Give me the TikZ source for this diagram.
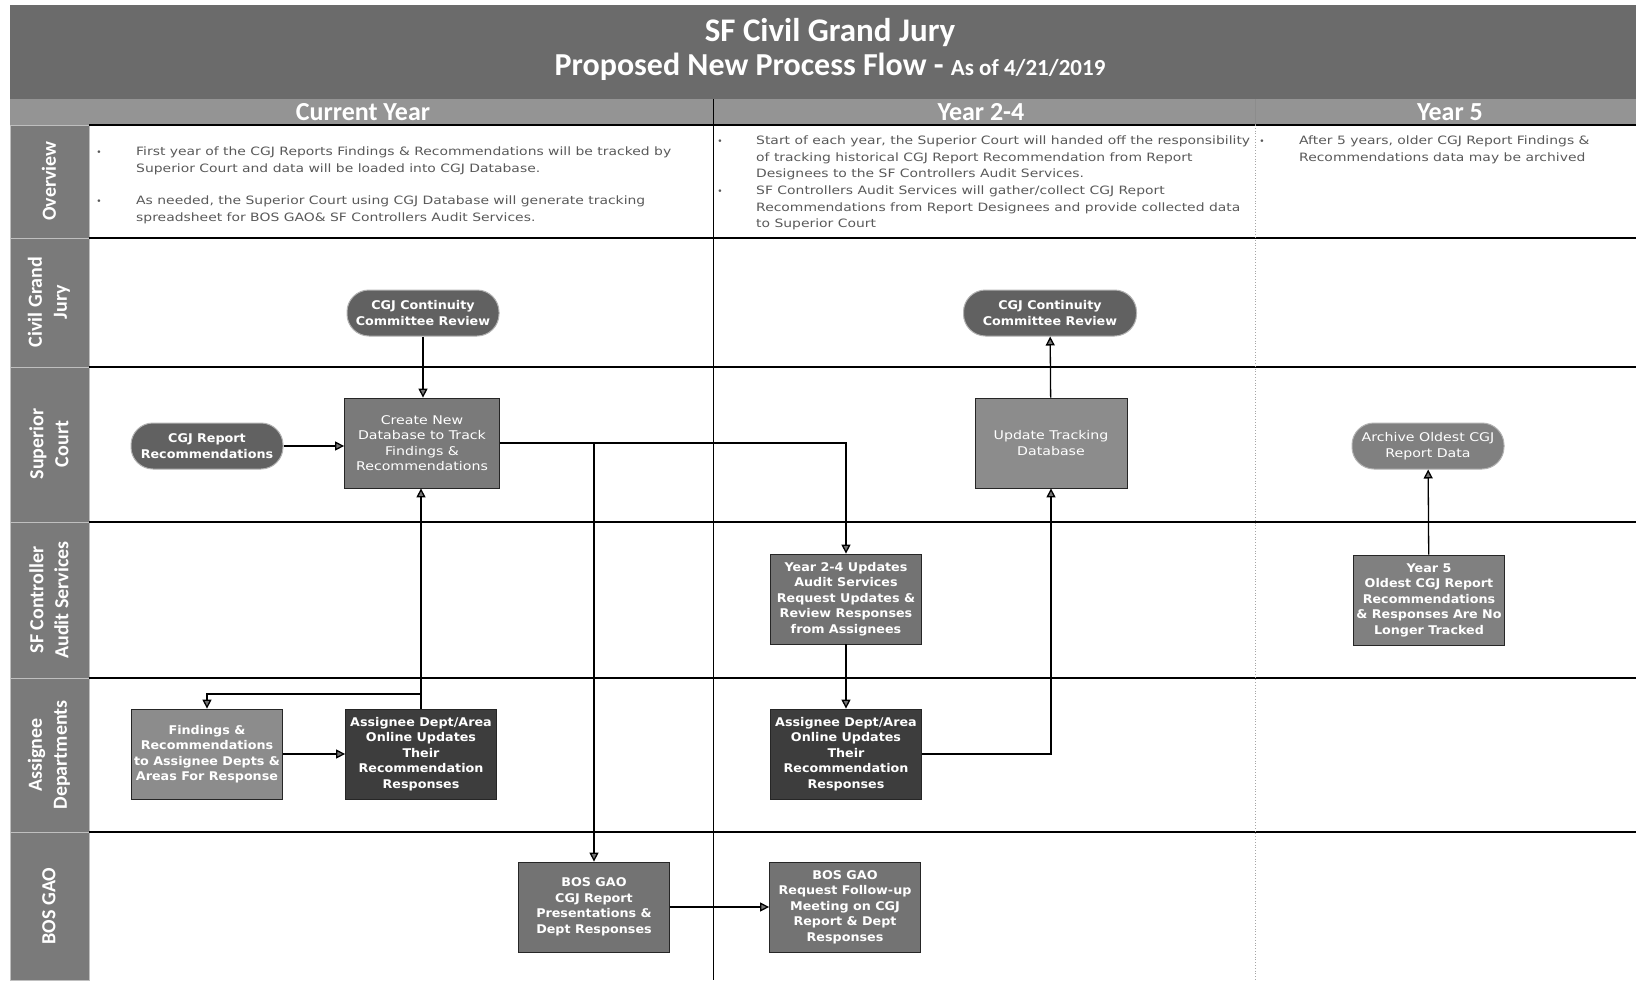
\documentclass[tikz,border=0pt]{standalone}
\usepackage{fontspec}
\setmainfont{DejaVu Sans}
\newfontfamily\headfont{Carlito}
\newfontfamily\boxfont[FakeStretch=1.06]{DejaVu Sans}
\newfontfamily\boxlight[FakeStretch=1.18]{DejaVu Sans}
\newfontfamily\ovfont[FakeStretch=1.21]{DejaVu Sans}
\usetikzlibrary{arrows.meta}
\newcommand{\flowarrow}{\draw[-{Triangle[length=9pt,width=9pt,fill=black!55]},line width=1.3pt]}

\tikzset{
  laneband/.style={draw=black!25, line width=0.8pt, fill=black!52},
  lanetext/.style={rotate=90, text=white, align=center,
    font=\headfont\bfseries\fontsize{20}{25}\selectfont},
  yearhead/.style={text=white, font=\headfont\bfseries\fontsize{26}{27}\selectfont},
  stepbox/.style={draw=black!85, line width=0.8pt, text=white, align=center,
    minimum width=151pt, minimum height=90pt, inner sep=1pt,
    font=\boxfont\bfseries\fontsize{12}{15.5}\selectfont},
  ovalbox/.style={draw=black!30, line width=1pt, fill=black!62, text=white,
    rounded corners=22pt, align=center, minimum width=152pt, minimum height=46pt,
    inner sep=1pt, font=\boxfont\bfseries\fontsize{12}{15.5}\selectfont},
  plainfont/.style={font=\boxlight\fontsize{12}{15.5}\selectfont},
  ovtext/.style={anchor=north west, inner sep=0pt, align=left, text=black!65,
    font=\ovfont\fontsize{11.5}{16.5}\selectfont},
  dotmark/.style={inner sep=0pt, text=black!65, font=\fontsize{9}{9}\selectfont},
}

\begin{document}
\begin{tikzpicture}[x=1pt,y=-1pt]
      \useasboundingbox (0,0) rectangle (1636,980);

      % title
      \fill[black!58] (10,5) rectangle (1636,99);
      \node(title1) at (830,33) [text=white, font=\headfont\bfseries\fontsize{33}{34}\selectfont]
            {SF Civil Grand Jury};
      \node(title2) at (830,67) [text=white, font=\headfont\bfseries\fontsize{32}{34}\selectfont]
            {Proposed New Process Flow - {\fontsize{23}{24}\selectfont As of 4/21/2019}};

      % years
      \fill[black!42] (10,99) rectangle (1636,125);
      \node(hcur) at (363,112) [yearhead] {Current Year};
      \node(hmid) at (981,112) [yearhead] {Year 2-4};
      \node(hend) at (1450,112) [yearhead] {Year 5};

      % lanes
      \draw[laneband] (10,125) rectangle (89,238);
      \draw[laneband] (10,238) rectangle (89,367);
      \draw[laneband] (10,367) rectangle (89,522);
      \draw[laneband] (10,522) rectangle (89,678);
      \draw[laneband] (10,678) rectangle (89,832);
      \draw[laneband] (10,832) rectangle (89,980);
      \node(lov)  at (49,181) [lanetext] {Overview};
      \node(lcgj) at (49,302) [lanetext] {Civil Grand\\Jury};
      \node(lsc)  at (49,444) [lanetext] {Superior\\Court};
      \node(lsfc) at (49,600) [lanetext] {SF Controller\\Audit Services};
      \node(lad)  at (49,755) [lanetext] {Assignee\\Departments};
      \node(lbos) at (49,906) [lanetext] {BOS GAO};

      \draw[line width=1.2pt] (89,125) -- (1636,125);
      \draw[line width=1.2pt] (89,238) -- (1636,238);
      \draw[line width=1.2pt] (89,367) -- (1636,367);
      \draw[line width=1.2pt] (89,522) -- (1636,522);
      \draw[line width=1.2pt] (89,678) -- (1636,678);
      \draw[line width=1.2pt] (89,832) -- (1636,832);
      \draw[line width=1pt] (713,99) -- (713,980);
      \draw[black!45, line width=0.8pt] (1255,99) -- (1255,125);
      \draw[black!35, line width=0.8pt, dotted] (1255,125) -- (1255,980);

      % overview
      \node(dot1) at (99,153)   [dotmark] {•};
      \node(ov1)  at (136,147)  [ovtext]
            {First year of the CGJ Reports Findings \& Recommendations will be tracked by\\
             Superior Court and data will be loaded into CGJ Database.};
      \node(dot2) at (99,202)   [dotmark] {•};
      \node(ov2)  at (136,196)  [ovtext]
            {As needed, the Superior Court using CGJ Database will generate tracking\\
             spreadsheet for BOS GAO\& SF Controllers Audit Services.};
      \node(dot3) at (720,142)  [dotmark] {•};
      \node(ov3)  at (756,136)  [ovtext]
            {Start of each year, the Superior Court will handed off the responsibility\\
             of tracking historical CGJ Report Recommendation from Report\\
             Designees to the SF Controllers Audit Services.};
      \node(dot4) at (720,192)  [dotmark] {•};
      \node(ov4)  at (756,186)  [ovtext]
            {SF Controllers Audit Services will gather/collect CGJ Report\\
             Recommendations from Report Designees and provide collected data\\
             to Superior Court};
      \node(dot5) at (1262,142) [dotmark] {•};
      \node(ov5)  at (1299,136) [ovtext]
            {After 5 years, older CGJ Report Findings \&\\
             Recommendations data may be archived};

      % current year
      \node(cgja)   at (423,313) [ovalbox] {CGJ Continuity\\Committee Review};
      \node(rec)    at (207,446) [ovalbox] {CGJ Report\\Recommendations};
      \node(create) at (422,443) [stepbox, plainfont, fill=black!52, minimum width=155pt]
            {Create New\\Database to Track\\Findings \&\\Recommendations};
      \node(find)   at (207,754) [stepbox, fill=black!45]
            {Findings \&\\Recommendations\\to Assignee Depts \&\\Areas For Response};
      \node(ad1)    [right of=find, node distance=214pt, stepbox, fill=black!76]
            {Assignee Dept/Area\\Online Updates\\Their\\Recommendation\\Responses};
      \node(bos1)   at (594,907) [stepbox, fill=black!55]
            {BOS GAO\\CGJ Report\\Presentations \&\\Dept Responses};

      % year 2-4
      \node(cgjb)   at (1050,313) [ovalbox, minimum width=173pt] {CGJ Continuity\\Committee Review};
      \node(upd)    at (1051,443) [stepbox, plainfont, fill=black!45, minimum width=152pt]
            {Update Tracking\\Database};
      \node(y24)    at (846,599) [stepbox, fill=black!55]
            {Year 2-4 Updates\\Audit Services\\Request Updates \&\\Review Responses\\from Assignees};
      \node(ad2)    [below of=y24, node distance=155pt, stepbox, fill=black!76]
            {Assignee Dept/Area\\Online Updates\\Their\\Recommendation\\Responses};
      \node(bos2)   [right of=bos1, node distance=251pt, stepbox, fill=black!55]
            {BOS GAO\\Request Follow-up\\Meeting on CGJ\\Report \& Dept\\Responses};

      % year 5
      \node(arch)   at (1428,446) [ovalbox, plainfont, fill=black!50] {Archive Oldest CGJ\\Report Data};
      \node(y5)     at (1429,600) [stepbox, fill=black!50]
            {Year 5\\Oldest CGJ Report\\Recommendations\\\& Responses Are No\\Longer Tracked};

      % connectors
      \coordinate(ramo) at (300,694);
      \flowarrow (cgja.south) -- (cgja.south |- create.north);
      \flowarrow (rec) -- (rec -| create.west);
      \flowarrow (create.east) -- (y24.north |- create.east) -- (y24.north);
      \flowarrow (bos1.north |- create.east) -- (bos1.north);
      \flowarrow (ad1.north) -- (ad1.north |- create.south);
      \flowarrow (ad1.north |- ramo) -| (find.north);
      \flowarrow (find) -- (ad1);
      \flowarrow (bos1) -- (bos2);
      \flowarrow (y24) -- (ad2);
      \flowarrow (ad2.east) -| (upd.south);
      \flowarrow (upd) -- (cgjb);
      \flowarrow (y5) -- (arch);
   \end{tikzpicture}
\end{document}
